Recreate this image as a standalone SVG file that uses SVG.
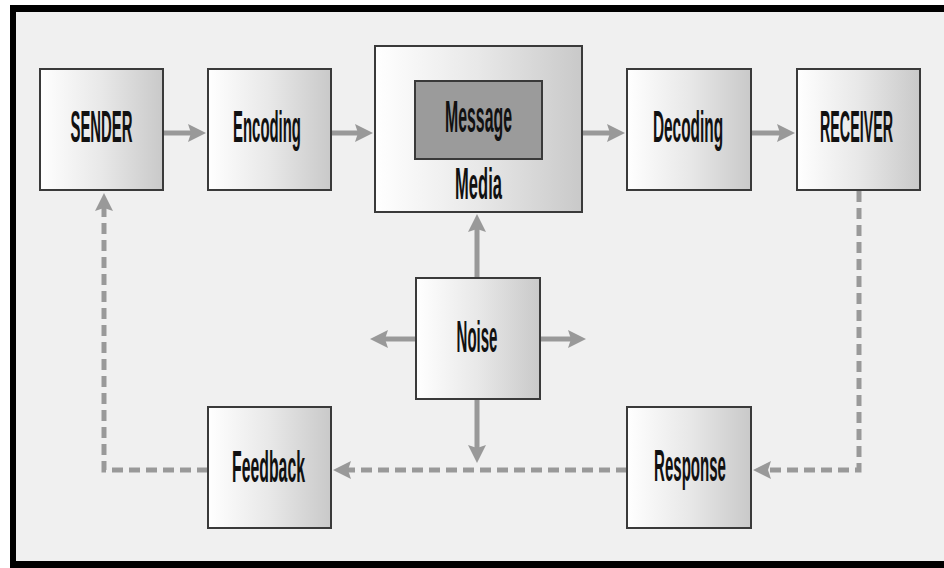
<svg xmlns="http://www.w3.org/2000/svg" width="944" height="568" viewBox="0 0 944 568">
<defs>
<linearGradient id="boxGrad" x1="0" y1="0" x2="1" y2="0">
<stop offset="0" stop-color="#ffffff"/>
<stop offset="0.5" stop-color="#e8e8e8"/>
<stop offset="1" stop-color="#c9c9c9"/>
</linearGradient>
<marker id="head" markerUnits="userSpaceOnUse" markerWidth="20" markerHeight="20" refX="8" refY="9" orient="auto">
<path d="M0,0 L18,9 L0,18 L3,9 Z" fill="#999999"/>
</marker>
<style>
.box{fill:url(#boxGrad);stroke:#3a3a3a;stroke-width:2}
.msg{fill:#9b9b9b;stroke:#3a3a3a;stroke-width:2}
.lbl{font-family:"Liberation Sans Narrow","Liberation Sans",sans-serif;font-size:44px;font-weight:bold;fill:#111;text-anchor:middle}
.conn{fill:none;stroke:#999999;stroke-width:5;marker-end:url(#head)}
.dash{stroke-dasharray:11 6}
</style>
</defs>
<rect x="0" y="0" width="944" height="568" fill="#ffffff"/>
<rect x="10" y="5" width="934" height="563" fill="#000000"/>
<rect x="16" y="12" width="928" height="549" fill="#f0f0f0"/>

<g id="connectors">
<path class="conn" d="M163,133 H196"/>
<path class="conn" d="M331,133 H363"/>
<path class="conn" d="M582,133 H615"/>
<path class="conn" d="M751,133 H785"/>
<path class="conn" d="M477,278 V224"/>
<path class="conn" d="M416,339 H380"/>
<path class="conn" d="M540,339 H576"/>
<path class="conn" d="M477,399 V453"/>
<path class="conn dash" d="M859,191 V470 H763"/>
<path class="conn dash" d="M627,470 H343"/>
<path class="conn dash" d="M208,470 H104 V203"/>
</g>

<g id="sender">
<rect class="box" x="40" y="69" width="123" height="121"/>
<text class="lbl" transform="translate(101.5,142) scale(0.45,1)" textLength="138" lengthAdjust="spacingAndGlyphs">SENDER</text>
</g>
<g id="encoding">
<rect class="box" x="208" y="69" width="123" height="121"/>
<text class="lbl" transform="translate(267,142) scale(0.45,1)" textLength="151" lengthAdjust="spacingAndGlyphs">Encoding</text>
</g>
<g id="media">
<rect class="box" x="375" y="46" width="207" height="166"/>
<text class="lbl" transform="translate(478.5,199) scale(0.45,1)" textLength="104" lengthAdjust="spacingAndGlyphs">Media</text>
</g>
<g id="message">
<rect class="msg" x="415" y="81" width="127" height="78"/>
<text class="lbl" transform="translate(478.5,132) scale(0.45,1)" textLength="149" lengthAdjust="spacingAndGlyphs">Message</text>
</g>
<g id="decoding">
<rect class="box" x="627" y="69" width="124" height="121"/>
<text class="lbl" transform="translate(688,142) scale(0.45,1)" textLength="156" lengthAdjust="spacingAndGlyphs">Decoding</text>
</g>
<g id="receiver">
<rect class="box" x="797" y="69" width="123" height="121"/>
<text class="lbl" transform="translate(856.5,142) scale(0.45,1)" textLength="162" lengthAdjust="spacingAndGlyphs">RECEIVER</text>
</g>
<g id="noise">
<rect class="box" x="416" y="278" width="124" height="121"/>
<text class="lbl" transform="translate(477,352) scale(0.45,1)" textLength="91" lengthAdjust="spacingAndGlyphs">Noise</text>
</g>
<g id="feedback">
<rect class="box" x="208" y="407" width="123" height="121"/>
<text class="lbl" transform="translate(268.5,482) scale(0.45,1)" textLength="162" lengthAdjust="spacingAndGlyphs">Feedback</text>
</g>
<g id="response">
<rect class="box" x="627" y="407" width="124" height="121"/>
<text class="lbl" transform="translate(690,481) scale(0.45,1)" textLength="160" lengthAdjust="spacingAndGlyphs">Response</text>
</g>
</svg>
